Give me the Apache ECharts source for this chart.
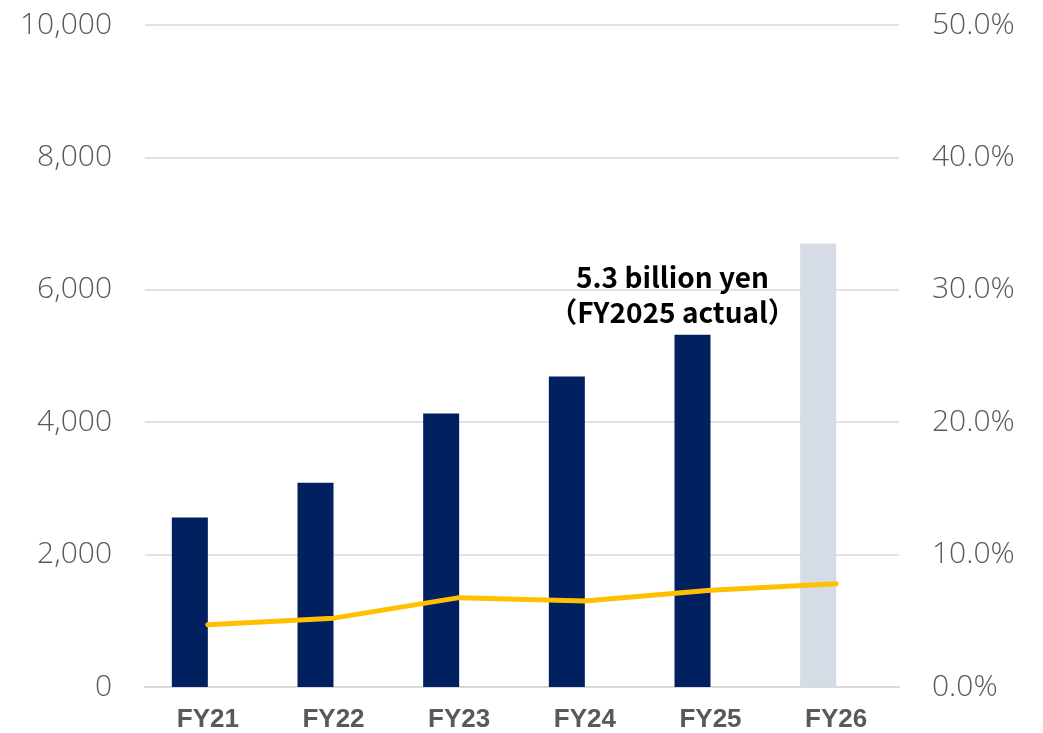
<!DOCTYPE html>
<html>
<head>
<meta charset="utf-8">
<script src="https://cdn.jsdelivr.net/npm/echarts@6/dist/echarts.min.js"></script>
<style>
  html, body { margin: 0; padding: 0; background: #fff; }
  #chart { width: 1043px; height: 733px; }
</style>
</head>
<body>
<div id="chart"></div>
<script>
// Fiscal years on the category axis
const categories = ['FY21', 'FY22', 'FY23', 'FY24', 'FY25', 'FY26'];
// Amount (million yen), left axis
const amounts = [2560, 3085, 4130, 4690, 5320, 6700];
// Ratio (%), right axis
const ratios = [4.7, 5.2, 6.75, 6.5, 7.3, 7.8];
// Left and right axis ranges
const leftAxisMax = 10000, leftAxisStep = 2000;
const rightAxisMax = 50, rightAxisStep = 10;
// Index of the plan year (drawn in a pale colour) and of the annotated year
const planIndex = 5;
const noteIndex = 4;

const navy = '#002060';
const pale = '#D6DCE5';
const gold = '#FFC000';
const grey = '#595959';
const gridGrey = '#D9D9D9';

const barData = amounts.map((v, i) => {
  const item = { value: v, itemStyle: { color: i === planIndex ? pale : navy } };
  if (i === noteIndex) {
    item.label = {
      show: true,
      position: 'top',
      offset: [-20, 0],
      formatter: () => (v / 1000).toFixed(1) + ' billion yen\n（FY20' + categories[i].slice(2) + ' actual）',
      color: '#000',
      fontFamily: '"Noto Sans CJK JP", "Noto Sans", sans-serif',
      fontWeight: 'bold',
      fontSize: 28,
      lineHeight: 35,
      align: 'center'
    };
  }
  return item;
});

const chart = echarts.init(document.getElementById('chart'), null, { renderer: 'canvas' });
chart.setOption({
  backgroundColor: '#fff',
  animation: false,
  grid: { left: 145, right: 144, top: 25, bottom: 45, containLabel: false },
  xAxis: {
    type: 'category',
    data: categories,
    boundaryGap: true,
    axisLine: { show: true, lineStyle: { color: gridGrey, width: 2 } },
    axisTick: { show: false },
    axisLabel: {
      color: grey,
      fontFamily: '"Liberation Sans", Arial, sans-serif',
      fontWeight: 'bold',
      fontSize: 26,
      margin: 20
    }
  },
  yAxis: [
    {
      type: 'value',
      min: 0,
      max: leftAxisMax,
      interval: leftAxisStep,
      axisLine: { show: false },
      axisTick: { show: false },
      splitLine: { show: true, lineStyle: { color: gridGrey, width: 1.5 } },
      axisLabel: {
        color: grey,
        fontFamily: '"Open Sans", "Noto Sans", sans-serif',
        fontWeight: 300,
        fontSize: 30,
        margin: 33,
        formatter: v => v.toLocaleString('en-US')
      }
    },
    {
      type: 'value',
      min: 0,
      max: rightAxisMax,
      interval: rightAxisStep,
      position: 'right',
      axisLine: { show: false },
      axisTick: { show: false },
      splitLine: { show: false },
      axisLabel: {
        color: grey,
        fontFamily: '"Open Sans", "Noto Sans", sans-serif',
        fontWeight: 300,
        fontSize: 30,
        margin: 33,
        formatter: v => v.toFixed(1) + '%'
      }
    }
  ],
  series: [
    {
      name: 'Amount',
      type: 'bar',
      yAxisIndex: 0,
      barWidth: 36,
      barGap: '0%',
      data: barData,
      z: 2
    },
    {
      // empty companion slot, keeps the bars to the left of each category centre
      name: 'spacer',
      type: 'bar',
      yAxisIndex: 0,
      barWidth: 36,
      data: categories.map(() => null),
      silent: true
    },
    {
      name: 'Ratio',
      type: 'line',
      yAxisIndex: 1,
      data: ratios,
      showSymbol: false,
      symbol: 'none',
      lineStyle: { color: gold, width: 5, cap: 'round', join: 'round' },
      z: 3
    }
  ]
});
</script>
</body>
</html>
